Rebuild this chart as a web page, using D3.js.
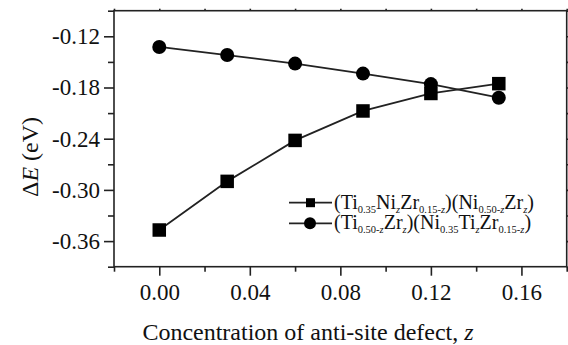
<!DOCTYPE html>
<html><head><meta charset="utf-8">
<script src="https://cdn.jsdelivr.net/npm/d3@7"></script>
<style>body{margin:0;background:#fff}svg{display:block}text{font-family:"Liberation Serif","Times New Roman",serif;fill:#111}</style>
</head><body>
<script>
const zValues = [0, 0.03, 0.06, 0.09, 0.12, 0.15];
const squareSeries = [-0.347, -0.290, -0.242, -0.2075, -0.187, -0.1755];
const circleSeries = [-0.1325, -0.142, -0.152, -0.1637, -0.176, -0.192];
const xTicks = [0, 0.04, 0.08, 0.12, 0.16];
const xMinor = [-0.02, 0.02, 0.06, 0.10, 0.14, 0.18];
const yTicks = [-0.36, -0.30, -0.24, -0.18, -0.12];
const yMinor = [-0.39, -0.33, -0.27, -0.21, -0.15, -0.09];

const W = 568, H = 345;
const L = 114, R = 566.7, T = 10.7, B = 266.7;
const svg = d3.select("body").append("svg").attr("width", W).attr("height", H);
const x = d3.scaleLinear().domain([-0.02, 0.18]).range([L, R]);
const y = d3.scaleLinear().domain([-0.39, -0.09]).range([B, T]);
const ink = "#222";

// frame
svg.append("rect").attr("x", L).attr("y", T).attr("width", R - L).attr("height", B - T)
  .attr("fill", "none").attr("stroke", ink).attr("stroke-width", 1.6);

// axes
const fmt = d => d3.format(".2f")(d).replace("\u2212", "-");
svg.append("g").attr("transform", `translate(0,${B})`)
  .call(d3.axisBottom(x).tickValues(xTicks).tickFormat(fmt).tickSize(9).tickPadding(8));
svg.append("g").attr("transform", `translate(0,${B})`)
  .call(d3.axisBottom(x).tickValues(xMinor).tickFormat("").tickSize(5));
svg.append("g").attr("transform", `translate(${L},0)`)
  .call(d3.axisLeft(y).tickValues(yTicks).tickFormat(fmt).tickSize(10).tickPadding(4));
svg.append("g").attr("transform", `translate(${L},0)`)
  .call(d3.axisLeft(y).tickValues(yMinor).tickFormat("").tickSize(6));
// small outward ticks on top and right
svg.append("g").attr("transform", `translate(0,${T})`)
  .call(d3.axisTop(x).tickValues(xTicks.concat(xMinor)).tickFormat("").tickSize(2));
svg.append("g").attr("transform", `translate(${R},0)`)
  .call(d3.axisRight(y).tickValues(yTicks.concat(yMinor)).tickFormat("").tickSize(2));

svg.selectAll(".domain").remove();
svg.selectAll("g").attr("font-family", null);
svg.selectAll(".tick line").attr("stroke", ink).attr("stroke-width", 1.6);
svg.selectAll(".tick text").attr("font-size", 23).attr("fill", "#111");

// lines
const line = d3.line().x((d, i) => x(zValues[i])).y(d => y(d));
[squareSeries, circleSeries].forEach(s => {
  svg.append("path").datum(s).attr("d", line).attr("fill", "none")
    .attr("stroke", ink).attr("stroke-width", 1.8);
});
const sq = 13.5;
svg.selectAll(".sq").data(squareSeries).enter().append("rect")
  .attr("x", (d, i) => x(zValues[i]) - sq / 2).attr("y", d => y(d) - sq / 2)
  .attr("width", sq).attr("height", sq).attr("fill", "#000");
svg.selectAll(".ci").data(circleSeries).enter().append("circle")
  .attr("cx", (d, i) => x(zValues[i])).attr("cy", d => y(d)).attr("r", 7).attr("fill", "#000");

// legend
const lg = svg.append("g");
const legendRows = [
  {y: 202.7, marker: "square", parts: [["(Ti",""],["0.35","sub"],["Ni",""],["z","subi"],["Zr",""],["0.15-","sub"],["z","subi"],[")(Ni",""],["0.50-","sub"],["z","subi"],["Zr",""],["z","subi"],[")",""]]},
  {y: 223.3, marker: "circle", parts: [["(Ti",""],["0.50-","sub"],["z","subi"],["Zr",""],["z","subi"],[")(Ni",""],["0.35","sub"],["Ti",""],["z","subi"],["Zr",""],["0.15-","sub"],["z","subi"],[")",""]]}
];
legendRows.forEach(r => {
  lg.append("line").attr("x1", 289).attr("x2", 332).attr("y1", r.y).attr("y2", r.y)
    .attr("stroke", ink).attr("stroke-width", 1.8);
  if (r.marker === "square") lg.append("rect").attr("x", 306).attr("y", r.y - 4.5).attr("width", 9).attr("height", 9).attr("fill", "#000");
  else lg.append("circle").attr("cx", 310).attr("cy", r.y).attr("r", 6).attr("fill", "#000");
  const t = lg.append("text").attr("x", 334).attr("y", r.y + 6).attr("font-size", 20);
  let inSub = false;
  r.parts.forEach(([s, k]) => {
    const ts = t.append("tspan").text(s);
    const sub = k.startsWith("sub");
    if (sub && !inSub) ts.attr("dy", 4);
    if (!sub && inSub) ts.attr("dy", -4);
    if (sub) ts.attr("font-size", 10.5);
    if (k === "subi") ts.attr("font-style", "italic");
    inSub = sub;
  });
});

// axis titles
const xt = svg.append("text").attr("x", 308).attr("y", 340).attr("text-anchor", "middle").attr("font-size", 24);
xt.append("tspan").text("Concentration of anti-site defect, ");
xt.append("tspan").attr("font-style", "italic").text("z");
const yt = svg.append("text").attr("transform", "translate(38,157) rotate(-90)").attr("text-anchor", "middle").attr("font-size", 24);
yt.append("tspan").text("Δ");
yt.append("tspan").attr("font-style", "italic").text("E");
yt.append("tspan").text(" (eV)");
</script>
</body></html>
